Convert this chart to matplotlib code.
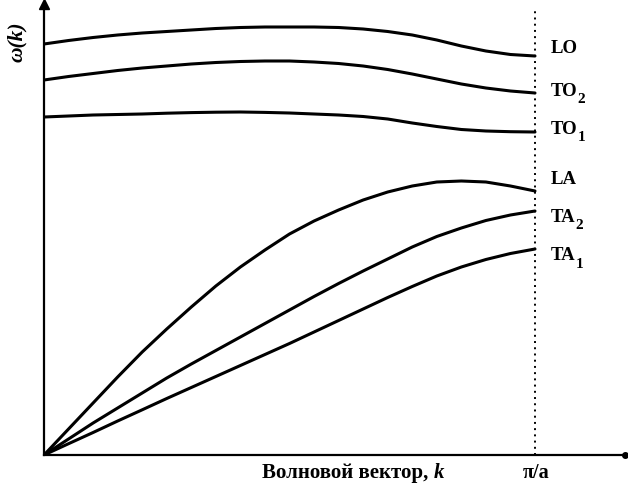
import matplotlib as mpl
mpl.use('Agg')
import matplotlib.pyplot as plt

# wave vector, as a fraction of pi/a
k = [0.0, 0.05, 0.1, 0.15, 0.2, 0.25, 0.3, 0.35, 0.4, 0.45, 0.5,
     0.55, 0.6, 0.65, 0.7, 0.75, 0.8, 0.85, 0.9, 0.95, 1.0]

# frequencies in arbitrary units
w_LO  = [411, 414.5, 417.5, 420, 422, 423.5, 425, 426.5, 427.5, 428, 428,
         428, 427.5, 426, 423.5, 420, 415, 409, 404, 400.5, 399]
w_TO2 = [375, 378.5, 381.5, 384.5, 387, 389, 391, 392.5, 393.5, 394, 394,
         393, 391.5, 389, 385.5, 381, 376, 371, 367, 364, 362]
w_TO1 = [338, 339, 340, 340.5, 341, 341.8, 342.4, 342.8, 343, 342.6, 342,
         341, 340, 338.5, 336, 332, 328.5, 325.5, 324, 323.3, 323]
w_LA  = [0, 26, 52, 78, 103, 126, 148, 169, 188, 205, 221,
         234, 245, 255, 263, 269, 273, 274, 273, 269, 264]
w_TA2 = [0, 16, 32, 47, 62, 77, 91, 104.5, 118, 131.5, 145,
         158.5, 171.5, 184, 196, 208, 218.5, 227, 234.5, 240, 244]
w_TA1 = [0, 11.3, 22.5, 34, 45.2, 56.5, 67.5, 78.5, 89.5, 100.5, 111.5,
         123, 134.5, 146, 157.5, 168.5, 179, 188, 195.5, 201.5, 206]

curves = [w_LO, w_TO2, w_TO1, w_LA, w_TA2, w_TA1]
names = ["LO", "TO", "TO", "LA", "TA", "TA"]
subs = ["", "2", "1", "", "2", "1"]
label_y = [408, 365, 327, 277, 239, 200]

fig = plt.figure(figsize=(6.28, 4.89), dpi=100)
ax = fig.add_axes([44/628, 33/489, 581/628, 451/489])
ax.set_xlim(0, 581/491)
ax.set_ylim(0, 451)

for w in curves:
    ax.plot(k, w, color='black', lw=2.2, solid_capstyle='round', solid_joinstyle='round')

for name, sub, ly in zip(names, subs, label_y):
    t = ax.text(1.033, ly, name, fontsize=13.5, family='Liberation Serif', weight='bold',
                ha='left', va='center')
    if sub:
        ax.annotate(sub, xy=(1, 0), xycoords=t, xytext=(-0.3, -4.5),
                    textcoords='offset points', fontsize=11,
                    family='Liberation Serif', weight='bold', ha='left', va='bottom')

# boundary of the Brillouin zone
ax.plot([1, 1], [0, 448], color='black', lw=1.4, ls=(0, (1, 2.2)))

for s in ['top', 'right']:
    ax.spines[s].set_visible(False)
ax.spines['left'].set_linewidth(1.6)
ax.spines['bottom'].set_linewidth(1.6)
ax.plot(0, 1, '^', color='black', ms=7, transform=ax.transAxes, clip_on=False)
ax.plot(1, 0, 'o', color='black', ms=4, transform=ax.transAxes, clip_on=False)

ax.set_xticks([])
ax.set_yticks([])
ax.text(1.002, -17, "π/a", fontsize=14.5, family='Liberation Serif', weight='bold',
        ha='center', va='center')
ax.text(0.793, -17, "Волновой вектор, ", fontsize=15, family='Liberation Serif',
        weight='bold', ha='right', va='center')
ax.text(0.793, -17, "k", fontsize=15, family='Liberation Serif', weight='bold',
        style='italic', ha='left', va='center')
ax.text(-0.055, 414, "ω(k)", fontsize=15.5, family='Liberation Serif', weight='bold',
        style='italic', rotation=90, ha='center', va='center')

fig.savefig('out.png', dpi=100)
